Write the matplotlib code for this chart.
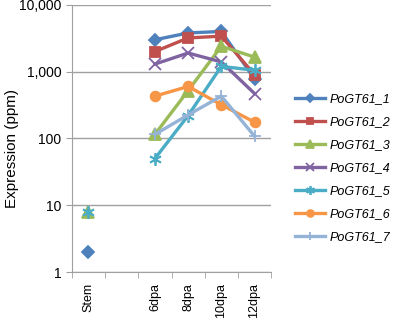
import numpy as np
import matplotlib
matplotlib.use('Agg')
from matplotlib import pyplot as plt
from matplotlib.ticker import FuncFormatter, FixedLocator

plt.rcParams['font.family'] = ['Liberation Sans', 'DejaVu Sans']

categorias = ['Stem', '', '6dpa', '8dpa', '10dpa', '12dpa']
nan = np.nan

pogt61_1 = [2, nan, 3000, 3800, 4000, 780]
pogt61_2 = [nan, nan, 2000, 3200, 3400, 900]
pogt61_3 = [8, nan, 115, 520, 2400, 1650]
pogt61_4 = [nan, nan, 1300, 1900, 1400, 470]
pogt61_5 = [8, nan, 50, 220, 1200, 1050]
pogt61_6 = [nan, nan, 430, 600, 320, 175]
pogt61_7 = [nan, nan, 115, 225, 430, 108]

series = [
    ('PoGT61_1', pogt61_1, '#4F81BD', 'D', 6),
    ('PoGT61_2', pogt61_2, '#C0504D', 's', 7),
    ('PoGT61_3', pogt61_3, '#9BBB59', '^', 8),
    ('PoGT61_4', pogt61_4, '#8064A2', 'x', 8),
    ('PoGT61_5', pogt61_5, '#4BACC6', (6, 2, 0), 9),
    ('PoGT61_6', pogt61_6, '#F79646', 'o', 7),
    ('PoGT61_7', pogt61_7, '#95B3D7', '+', 9),
]

fig = plt.figure(figsize=(3.97, 3.25), dpi=100)
ax = fig.add_axes([0.181, 0.163, 0.502, 0.822])

x = np.arange(len(categorias))
for nome, valores, cor, marcador, tam in series:
    ax.plot(x, valores, color=cor, marker=marcador, markersize=tam, linewidth=2.4,
            markeredgewidth=1.3, markeredgecolor=cor, label=nome)

ax.set_yscale('log')
ax.set_ylim(1, 10000)
ax.set_xlim(-0.5, len(categorias) - 0.5)
ax.yaxis.set_major_formatter(FuncFormatter(lambda v, p: f'{v:,.0f}'))
ax.yaxis.set_minor_locator(FixedLocator([]))
ax.grid(axis='y', color='#A0A0A0', linewidth=1.0)
ax.set_axisbelow(True)

ax.set_xticks(x)
ax.set_xticklabels(categorias, rotation=90, fontsize=9)
ax.tick_params(axis='x', which='major', length=0, pad=8)
ax.set_xticks(np.arange(len(categorias) + 1) - 0.5, minor=True)
ax.tick_params(axis='x', which='minor', length=4, color='#A0A0A0', direction='out')
ax.tick_params(axis='y', labelsize=10, length=4, color='#A0A0A0')

for lado in ['top', 'right']:
    ax.spines[lado].set_visible(False)
for lado in ['left', 'bottom']:
    ax.spines[lado].set_color('#A0A0A0')

# rotulo do eixo y posto a mao para nao cortar
fig.text(0.03, 1 - 149 / 325, 'Expression (ppm)', rotation=90, fontsize=11,
         ha='center', va='center')

leg = fig.legend(loc='upper left', bbox_to_anchor=(0.743, 0.713), frameon=False,
                 prop={'style': 'italic', 'size': 9}, handlelength=2.4,
                 labelspacing=0.88, handletextpad=0.4, borderpad=0,
                 borderaxespad=0, markerscale=0.7)

fig.savefig('out.png', dpi=100)
